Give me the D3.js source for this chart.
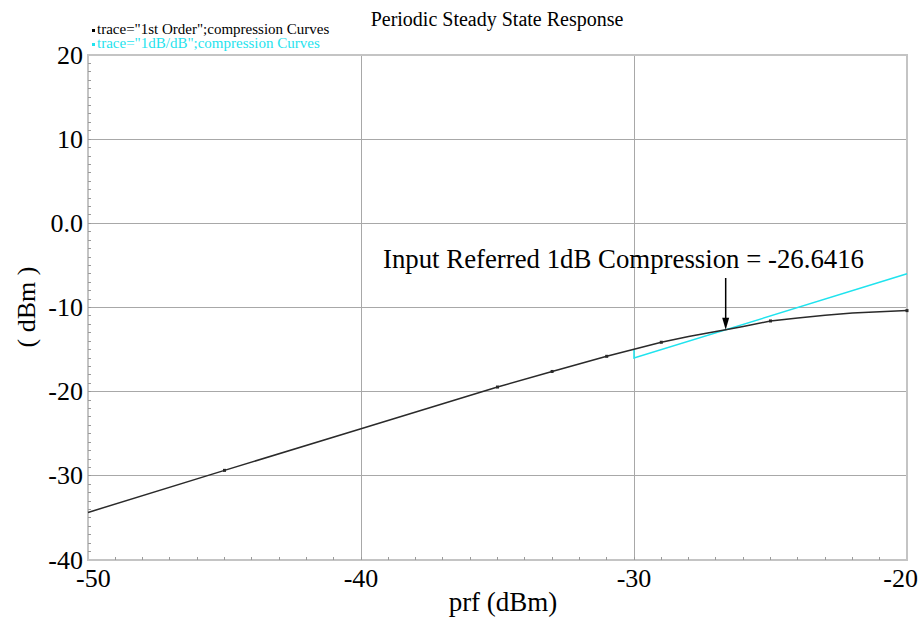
<!DOCTYPE html>
<html>
<head>
<meta charset="utf-8">
<script src="https://cdn.jsdelivr.net/npm/d3@7"></script>
<style>
  html, body { margin: 0; padding: 0; background: #fff; }
  svg { display: block; }
  svg text { font-family: "Liberation Serif", "Times New Roman", "DejaVu Serif", serif; }
</style>
</head>
<body>
<svg id="chart" width="921" height="621"></svg>
<script>
// First-order output power versus input power (dBm)
const prfIn   = [-50, -45, -40, -35, -33, -31, -30, -29, -28, -27, -26.6416, -26, -25, -24, -23, -22, -21, -20];
const pOut    = [-34.35, -29.35, -24.4, -19.45, -17.6, -15.8, -14.95, -14.13, -13.45, -12.85, -12.64, -12.25, -11.6, -11.25, -10.92, -10.65, -10.5, -10.37];
// Points where the simulator placed a sample marker
const markerIn = [-45, -35, -33, -31, -29, -25, -20];
// 1 dB/dB reference line
const refIn   = [-30, -30, -20];
const refOut  = [-15, -16, -6];
// Axis ticks
const xTicks = [-50, -40, -30, -20];
const yTicks = [20, 10, 0, -10, -20, -30, -40];
const yTickLabels = ["20", "10", "0.0", "-10", "-20", "-30", "-40"];
const compressionPoint = -26.6416;

const svg = d3.select("#chart");
const plotL = 88, plotR = 907, plotT = 55, plotB = 560;
const serif = "'Liberation Serif', 'Times New Roman', serif";

const x = d3.scaleLinear().domain([-50, -20]).range([plotL, plotR]);
const y = d3.scaleLinear().domain([-40, 20]).range([plotB, plotT]);

const gridColor = "#a8a8a8";
const frameColor = "#c4c4c4";
const black = "#2a2a2a";
const cyan = "#1fe3ee";

// Major grid
svg.append("g").selectAll("line")
  .data(xTicks.slice(1, -1)).join("line")
  .attr("x1", d => x(d)).attr("x2", d => x(d))
  .attr("y1", plotT).attr("y2", plotB)
  .attr("stroke", gridColor).attr("stroke-width", 1).attr("shape-rendering", "crispEdges");
svg.append("g").selectAll("line")
  .data(yTicks.slice(1, -1)).join("line")
  .attr("x1", plotL).attr("x2", plotR)
  .attr("y1", d => y(d)).attr("y2", d => y(d))
  .attr("stroke", gridColor).attr("stroke-width", 1).attr("shape-rendering", "crispEdges");

// Frame
svg.append("rect")
  .attr("x", plotL).attr("y", plotT)
  .attr("width", plotR - plotL).attr("height", plotB - plotT)
  .attr("fill", "none").attr("stroke", frameColor).attr("stroke-width", 1.5)
  .attr("shape-rendering", "crispEdges");

// Minor ticks, pointing into the plot
svg.append("g").selectAll("line")
  .data(d3.range(-49, -20, 1)).join("line")
  .attr("x1", d => x(d)).attr("x2", d => x(d))
  .attr("y1", plotB).attr("y2", plotB - 3)
  .attr("stroke", "#9a9a9a").attr("shape-rendering", "crispEdges");
svg.append("g").selectAll("line")
  .data(d3.range(-39, 20, 1)).join("line")
  .attr("x1", plotL).attr("x2", plotL + 3)
  .attr("y1", d => y(d)).attr("y2", d => y(d))
  .attr("stroke", "#9a9a9a").attr("shape-rendering", "crispEdges");

// Tick labels (end labels are kept inside the canvas)
svg.append("g").selectAll("text")
  .data(xTicks).join("text")
  .attr("x", (d, i) => i === 0 ? x(d) - 12 : i === xTicks.length - 1 ? x(d) + 11 : x(d))
  .attr("y", 587)
  .attr("text-anchor", (d, i) => i === 0 ? "start" : i === xTicks.length - 1 ? "end" : "middle")
  .attr("font-family", serif).attr("font-size", 26).attr("fill", "#000")
  .text(d => d);
svg.append("g").selectAll("text")
  .data(yTicks).join("text")
  .attr("x", 83).attr("y", d => y(d) + 8.5)
  .attr("text-anchor", "end")
  .attr("font-family", serif).attr("font-size", 26).attr("fill", "#000")
  .text((d, i) => yTickLabels[i]);

// Axis titles
svg.append("text")
  .attr("x", 503).attr("y", 611)
  .attr("text-anchor", "middle").attr("font-family", serif).attr("font-size", 27)
  .text("prf (dBm)");
svg.append("text")
  .attr("transform", "translate(35,307) rotate(-90)")
  .attr("text-anchor", "middle").attr("font-family", serif).attr("font-size", 26)
  .text("( dBm )");

// Title
svg.append("text")
  .attr("x", 497).attr("y", 26)
  .attr("text-anchor", "middle").attr("font-family", serif).attr("font-size", 20)
  .text("Periodic Steady State Response");

// Legend
const legend = [
  { label: "trace=\"1st Order\";compression Curves", color: "#000" },
  { label: "trace=\"1dB/dB\";compression Curves", color: cyan }
];
const lg = svg.append("g").selectAll("g").data(legend).join("g")
  .attr("transform", (d, i) => `translate(92,${34 + i * 14})`);
lg.append("rect").attr("x", 0).attr("y", -5).attr("width", 3).attr("height", 3)
  .attr("fill", d => d.color);
lg.append("text").attr("x", 5).attr("y", 0)
  .attr("font-family", serif).attr("font-size", 15).attr("fill", d => d.color)
  .text(d => d.label);

// Traces
const line = d3.line().x(d => x(d[0])).y(d => y(d[1]));
svg.append("path")
  .datum(d3.zip(refIn, refOut))
  .attr("d", line).attr("fill", "none")
  .attr("stroke", cyan).attr("stroke-width", 1.5);
svg.append("path")
  .datum(d3.zip(prfIn, pOut))
  .attr("d", line).attr("fill", "none")
  .attr("stroke", black).attr("stroke-width", 1.5);

// Sample markers
svg.append("g").selectAll("rect")
  .data(d3.zip(prfIn, pOut).filter(d => markerIn.includes(d[0]))).join("rect")
  .attr("x", d => x(d[0]) - 1.5).attr("y", d => y(d[1]) - 1.5)
  .attr("width", 3).attr("height", 3).attr("fill", black);

// Compression point annotation
const cpOut = pOut[prfIn.indexOf(compressionPoint)];
const ax = x(compressionPoint), ay = y(cpOut);
svg.append("line")
  .attr("x1", ax).attr("x2", ax).attr("y1", 278).attr("y2", ay - 10)
  .attr("stroke", "#000").attr("stroke-width", 1.5);
svg.append("path")
  .attr("d", `M${ax},${ay} L${ax - 3.5},${ay - 12} L${ax + 3.5},${ay - 12} Z`)
  .attr("fill", "#000");
svg.append("text")
  .attr("x", 383).attr("y", 268)
  .attr("font-family", serif).attr("font-size", 26.8)
  .text("Input Referred 1dB Compression = " + compressionPoint);
</script>
</body>
</html>
